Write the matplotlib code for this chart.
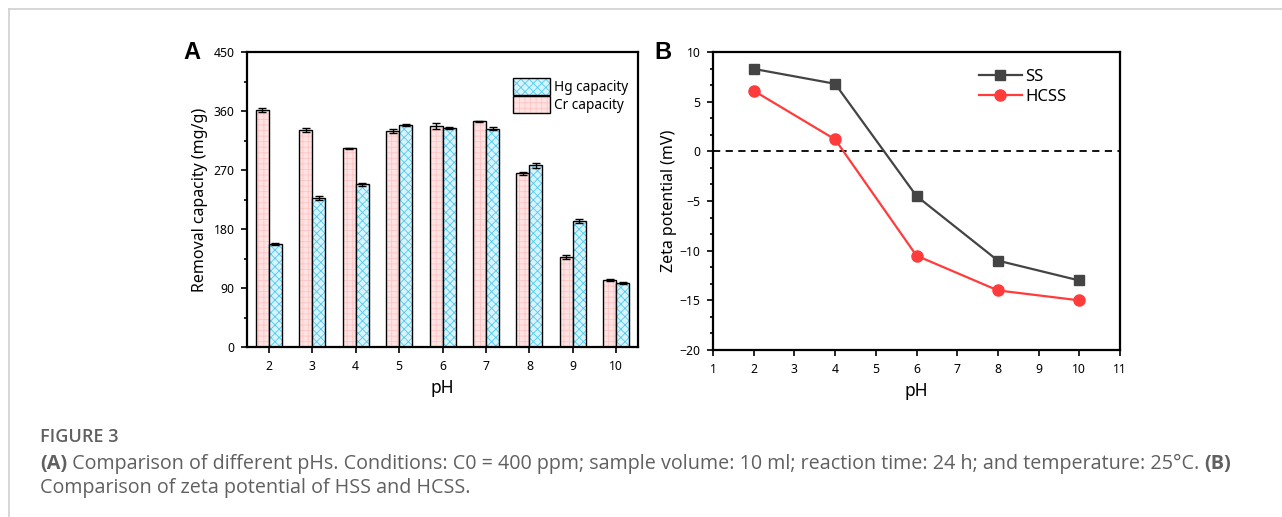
import numpy as np
import matplotlib
matplotlib.use('Agg')
import matplotlib.pyplot as plt
from matplotlib.patches import Patch
from matplotlib.lines import Line2D
from matplotlib.ticker import MultipleLocator, AutoMinorLocator

# ==========================
#      Data
# ==========================
ph_bar = [2, 3, 4, 5, 6, 7, 8, 9, 10]
cr_cap = [361, 331, 303, 330, 337, 344, 265, 137, 102]
cr_err = [3, 2.5, 1, 3, 4.5, 1.5, 2.5, 3, 1.5]
hg_cap = [157, 227, 248, 338, 334, 333, 277, 192, 97]
hg_err = [1.5, 3, 2.5, 1.5, 1, 2.5, 4, 3, 1.5]

ph_zeta = [2, 4, 6, 8, 10]
zeta_ss = [8.3, 6.8, -4.5, -11.0, -13.0]
zeta_hcss = [6.1, 1.2, -10.5, -14.0, -15.0]

caption_title = 'FIGURE 3'
caption_a = ' Comparison of different pHs. Conditions: C0 = 400 ppm; sample volume: 10 ml; reaction time: 24 h; and temperature: 25°C. '
caption_b = 'Comparison of zeta potential of HSS and HCSS.'

# ==========================
#        Plotting
# ==========================
plt.rcParams['font.family'] = ['Noto Sans', 'DejaVu Sans']
plt.rcParams['hatch.linewidth'] = 0.6

fig = plt.figure(figsize=(12.82, 5.17), dpi=100)

cr_face, cr_hatch = '#FFE3E3', '#FFC4C4'
hg_face, hg_hatch = '#D6F3FF', '#4FCBF0'

# ---------- panel A ----------
axA = fig.add_axes([0.1927, 0.3288, 0.3050, 0.5706])
x = np.array(ph_bar)
w = 0.3
axA.bar(x - w/2, cr_cap, w, color=cr_face, edgecolor=cr_hatch, hatch='+++', lw=0)
axA.bar(x - w/2, cr_cap, w, fill=False, edgecolor='black', lw=1.0)
axA.bar(x + w/2, hg_cap, w, color=hg_face, edgecolor=hg_hatch, hatch='xxxx', lw=0)
axA.bar(x + w/2, hg_cap, w, fill=False, edgecolor='black', lw=1.0)
axA.errorbar(x - w/2, cr_cap, yerr=cr_err, fmt='none', ecolor='black',
             elinewidth=1, capsize=3, capthick=1)
axA.errorbar(x + w/2, hg_cap, yerr=hg_err, fmt='none', ecolor='black',
             elinewidth=1, capsize=3, capthick=1)

axA.set_xlim(1.5, 10.5)
axA.set_ylim(0, 450)
axA.set_xticks(ph_bar)
axA.yaxis.set_major_locator(MultipleLocator(90))
axA.yaxis.set_minor_locator(MultipleLocator(45))
axA.set_xlabel('pH', fontsize=12.5, labelpad=5)
axA.set_ylabel('Removal capacity (mg/g)', fontsize=11.5, labelpad=4)

hA = [(Patch(facecolor=hg_face, edgecolor=hg_hatch, hatch='xxxx', lw=0),
       Patch(fill=False, edgecolor='black', lw=1)),
      (Patch(facecolor=cr_face, edgecolor=cr_hatch, hatch='+++', lw=0),
       Patch(fill=False, edgecolor='black', lw=1))]
axA.legend(hA, ['Hg capacity', 'Cr capacity'], loc='upper right',
           bbox_to_anchor=(1.0, 0.945), frameon=False, fontsize=9.8,
           handlelength=2.7, handleheight=1.6, handletextpad=0.3,
           labelspacing=0.05, borderaxespad=0.3)
fig.text(0.150, 0.898, 'A', fontsize=17, fontweight='bold',
         family='Liberation Sans', va='center', ha='center')

# ---------- panel B ----------
axB = fig.add_axes([0.5562, 0.3230, 0.3174, 0.5764])
axB.axhline(0, color='black', ls=(0, (4, 3)), lw=1.3, zorder=1)
axB.plot(ph_zeta, zeta_ss, color='#444444', marker='s', ms=7, lw=1.6,
         label='SS', zorder=3)
axB.plot(ph_zeta, zeta_hcss, color='#FF3B3B', marker='o', ms=8, lw=1.6,
         label='HCSS', zorder=3)
axB.set_xlim(1, 11)
axB.set_ylim(-20, 10)
axB.xaxis.set_major_locator(MultipleLocator(1))
axB.yaxis.set_major_locator(MultipleLocator(5))
axB.yaxis.set_minor_locator(AutoMinorLocator(3))
axB.set_xlabel('pH', fontsize=12.5, labelpad=5)
axB.set_ylabel('Zeta potential (mV)', fontsize=11.5, labelpad=2)
axB.legend(loc='upper right', bbox_to_anchor=(0.905, 0.995), frameon=False,
           fontsize=12, handlelength=2.6, handletextpad=0.2,
           labelspacing=0.25)
fig.text(0.517, 0.898, 'B', fontsize=17, fontweight='bold',
         family='Liberation Sans', va='center', ha='center')

for ax in (axA, axB):
    for s in ax.spines.values():
        s.set_linewidth(1.6)
    ax.tick_params(which='both', direction='out', top=False, right=False,
                   labelsize=8.8, width=1.2, pad=5)
    ax.tick_params(which='major', length=4)
    ax.tick_params(which='minor', length=2.5)
axA.tick_params(axis='x', which='minor', bottom=False)

# ---------- page frame ----------
fig.add_artist(Line2D([0.007, 1.0], [0.983, 0.983], transform=fig.transFigure,
                      color='#D0D0D0', lw=1.2))
fig.add_artist(Line2D([0.007, 0.007], [0.0, 0.983], transform=fig.transFigure,
                      color='#D0D0D0', lw=1.2))

# ---------- caption ----------
cap_col = '#606060'
cfont = 'Open Sans'
cfs = 14.2
fig.text(0.0312, 0.155, caption_title, fontsize=13, color=cap_col,
         family=cfont, fontweight='semibold', va='center')
renderer = fig.canvas.get_renderer()
y2 = 0.103
t = fig.text(0.0312, y2, '(A)', fontsize=cfs, color=cap_col, family=cfont,
             fontweight='bold', va='center')
xa = t.get_window_extent(renderer).x1 / fig.bbox.width
t = fig.text(xa, y2, caption_a, fontsize=cfs, color=cap_col, family=cfont,
             va='center')
xb = t.get_window_extent(renderer).x1 / fig.bbox.width
fig.text(xb, y2, '(B)', fontsize=cfs, color=cap_col, family=cfont,
         fontweight='bold', va='center')
fig.text(0.0312, 0.057, caption_b, fontsize=cfs, color=cap_col, family=cfont,
         va='center')

plt.savefig('out.png', dpi=100)
